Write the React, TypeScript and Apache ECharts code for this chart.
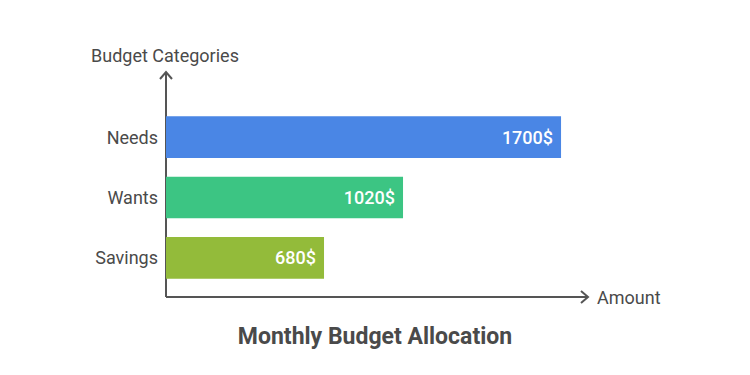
import React, { useEffect, useRef } from "react";
import * as echarts from "echarts";

const categories = ["Needs", "Wants", "Savings"];
const values = [1700, 1020, 680];
const barColors = ["#4A86E5", "#3CC583", "#93BB3A"];
const axisMax = 1816;
const titleText = "Monthly Budget Allocation";
const yAxisName = "Budget Categories";
const xAxisName = "Amount";

export default function App() {
  const ref = useRef<HTMLDivElement>(null);
  useEffect(() => {
    document.body.style.margin = "0";
    if (!ref.current) return;
    const chart = echarts.init(ref.current, null, { renderer: "svg" });
    const font = "Roboto, 'Noto Sans', sans-serif";
    const axisColor = "#555555";
    const textColor = "#4a4a4a";
    const gx = 166;
    const gBottom = 297;
    const gRight = 588;
    const gTop = 72;
    chart.setOption({
      animation: false,
      backgroundColor: "#ffffff",
      title: {
        text: titleText,
        left: "center",
        top: 320,
        textStyle: { fontFamily: font, fontSize: 23, fontWeight: "bold", color: "#4a4a4a" },
      },
      grid: { left: gx, top: 107, height: 181, width: gRight - gx, containLabel: false },
      xAxis: {
        type: "value",
        min: 0,
        max: axisMax,
        show: true,
        axisLine: { show: false },
        axisTick: { show: false },
        axisLabel: { show: false },
        splitLine: { show: false },
      },
      yAxis: {
        type: "category",
        data: categories,
        inverse: true,
        axisLine: { show: false },
        axisTick: { show: false },
        axisLabel: { fontFamily: font, fontSize: 18, color: textColor, margin: 8 },
      },
      series: [
        {
          type: "bar",
          data: values.map((v, i) => ({ value: v, itemStyle: { color: barColors[i] } })),
          barWidth: "69%",
          label: {
            show: true,
            position: "insideRight",
            distance: 8,
            formatter: (p: any) => `${p.value}$`,
            color: "#ffffff",
            fontFamily: font,
            fontSize: 18,
            fontWeight: 500,
          },
        },
      ],
      graphic: [
        {
          type: "polyline",
          shape: { points: [[gx, gBottom], [gx, gTop]] },
          style: { stroke: axisColor, lineWidth: 2, fill: null },
        },
        {
          type: "polyline",
          shape: { points: [[gx - 6, gTop + 7], [gx, gTop], [gx + 6, gTop + 7]] },
          style: { stroke: axisColor, lineWidth: 2, fill: null },
        },
        {
          type: "polyline",
          shape: { points: [[gx, gBottom], [gRight, gBottom]] },
          style: { stroke: axisColor, lineWidth: 2, fill: null },
        },
        {
          type: "polyline",
          shape: { points: [[gRight - 7, gBottom - 6], [gRight, gBottom], [gRight - 7, gBottom + 6]] },
          style: { stroke: axisColor, lineWidth: 2, fill: null },
        },
        {
          type: "text",
          x: 91,
          y: 55,
          style: { text: yAxisName, fontFamily: font, fontSize: 18, fill: textColor, verticalAlign: "middle" },
        },
        {
          type: "text",
          x: 597,
          y: 297,
          style: { text: xAxisName, fontFamily: font, fontSize: 18, fill: textColor, verticalAlign: "middle" },
        },
      ],
    });
    return () => chart.dispose();
  }, []);
  return <div ref={ref} style={{ width: 750, height: 375 }} />;
}
